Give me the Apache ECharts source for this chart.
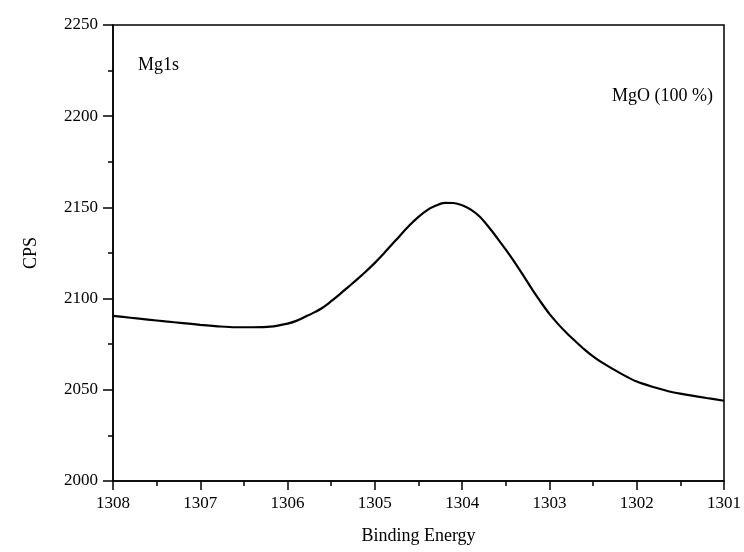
<!DOCTYPE html>
<html>
<head>
<meta charset="utf-8">
<script src="https://cdn.jsdelivr.net/npm/echarts@6/dist/echarts.min.js"></script>
<style>
  html, body { margin: 0; padding: 0; background: #fff; }
  #chart { width: 744px; height: 552px; }
</style>
</head>
<body>
<div id="chart"></div>
<script>
// binding energy (eV) and counts
var bindingEnergy = [
  1308.0, 1307.8, 1307.6, 1307.4, 1307.2, 1307.0, 1306.8, 1306.6, 1306.4, 1306.2,
  1306.0, 1305.9, 1305.8, 1305.7, 1305.6, 1305.5, 1305.4, 1305.3, 1305.2, 1305.1,
  1305.0, 1304.9, 1304.8, 1304.7, 1304.6, 1304.5, 1304.4, 1304.3, 1304.2, 1304.1,
  1304.0, 1303.9, 1303.8, 1303.7, 1303.6, 1303.5, 1303.4, 1303.3, 1303.2, 1303.1,
  1303.0, 1302.9, 1302.8, 1302.7, 1302.6, 1302.5, 1302.4, 1302.2, 1302.0, 1301.8,
  1301.6, 1301.4, 1301.2, 1301.0
];
var cps = [
  2090.5, 2089.5, 2088.5, 2087.5, 2086.6, 2085.6, 2084.8, 2084.3, 2084.3, 2084.6,
  2086.3, 2087.8, 2090.0, 2092.3, 2095.0, 2098.6, 2102.5, 2106.6, 2110.7, 2115.0,
  2119.6, 2124.6, 2129.9, 2135.2, 2140.3, 2144.8, 2148.5, 2151.0, 2152.5, 2152.4,
  2151.2, 2148.8, 2145.0, 2139.5, 2133.3, 2126.8, 2120.0, 2112.7, 2105.2, 2098.2,
  2091.6, 2086.0, 2081.0, 2076.5, 2072.2, 2068.3, 2065.0, 2059.4, 2054.5, 2051.4,
  2048.8, 2047.1, 2045.5, 2044.0
];
var sampleLabel = 'Mg1s';
var phaseLabel = 'MgO (100 %)';

var seriesData = [];
bindingEnergy.forEach(function(e, i){
  seriesData.push([e, cps[i]]);
});

var fontFamily = '"Liberation Serif", "DejaVu Serif", serif';

var chart = echarts.init(document.getElementById('chart'));

var option = {
  backgroundColor: '#fff',
  animation: false,
  grid: {
    left: 113,
    right: 18,
    top: 25,
    bottom: 71,
    show: true,
    borderColor: '#000',
    borderWidth: 1.5,
    backgroundColor: 'transparent'
  },
  xAxis: {
    type: 'value',
    min: 1301,
    max: 1308,
    interval: 1,
    inverse: true,
    name: 'Binding Energy',
    nameLocation: 'middle',
    nameGap: 46,
    nameTextStyle: { color: '#000', fontFamily: fontFamily, fontSize: 18 },
    axisLine: { show: true, lineStyle: { color: '#000', width: 1.5 } },
    axisTick: { show: true, inside: false, length: 9, lineStyle: { color: '#000', width: 1.5 } },
    minorTick: { show: true, splitNumber: 2, length: 5, lineStyle: { color: '#000', width: 1.5 } },
    axisLabel: {
      color: '#000', fontFamily: fontFamily, fontSize: 17, margin: 14,
      formatter: function(v){ return String(v); }
    },
    splitLine: { show: false }
  },
  yAxis: {
    type: 'value',
    min: 2000,
    max: 2250,
    interval: 50,
    name: 'CPS',
    nameLocation: 'middle',
    nameGap: 73,
    nameRotate: 90,
    nameTextStyle: { color: '#000', fontFamily: fontFamily, fontSize: 18 },
    axisLine: { show: true, lineStyle: { color: '#000', width: 1.5 } },
    axisTick: { show: true, inside: false, length: 10, lineStyle: { color: '#000', width: 1.5 } },
    minorTick: { show: true, splitNumber: 2, length: 5, lineStyle: { color: '#000', width: 1.5 } },
    axisLabel: {
      color: '#000', fontFamily: fontFamily, fontSize: 17, margin: 15,
      formatter: function(v){ return String(v); }
    },
    splitLine: { show: false }
  },
  graphic: [
    {
      type: 'text',
      left: 138,
      top: 56,
      style: { text: sampleLabel, fill: '#000', font: '18px ' + fontFamily }
    },
    {
      type: 'text',
      left: 612,
      top: 87,
      style: { text: phaseLabel, fill: '#000', font: '18px ' + fontFamily }
    }
  ],
  series: [
    {
      type: 'line',
      data: seriesData,
      smooth: 0.3,
      showSymbol: false,
      lineStyle: { color: '#000', width: 2.2 },
      clip: true
    }
  ]
};

chart.setOption(option);
</script>
</body>
</html>
